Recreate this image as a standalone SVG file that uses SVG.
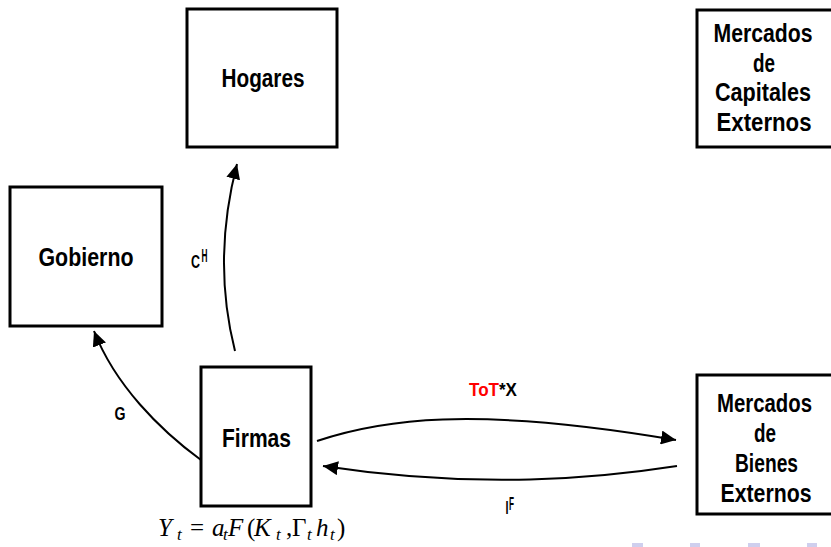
<svg xmlns="http://www.w3.org/2000/svg" width="831" height="547" viewBox="0 0 831 547">
<style>
.box{fill:#fff;stroke:#000;stroke-width:3}
.bt{font-family:"Liberation Sans Narrow","Liberation Sans",Arial,sans-serif;font-weight:bold;font-size:25.5px;fill:#000;text-anchor:middle}
.lb{font-family:"Liberation Sans Narrow","Liberation Sans",Arial,sans-serif;font-weight:bold;font-size:18.5px;fill:#000}
.con{fill:none;stroke:#000;stroke-width:2}
.eq{font-family:"Liberation Serif","Times New Roman",serif;font-size:25px;fill:#000}
.it{font-style:italic}
.sb{font-style:italic;font-size:17px}
.nav{fill:#cfcfee}
</style>
<defs>
<marker id="ah" markerUnits="userSpaceOnUse" markerWidth="15" markerHeight="14" refX="15" refY="7" orient="auto">
<path d="M0,0 L15,7 L0,14 z" fill="#000"/>
</marker>
</defs>
<rect width="831" height="547" fill="#fff"/>
<g id="hogares">
<rect class="box" x="187" y="9" width="150" height="138"/>
<text class="bt" x="263" y="87" textLength="83" lengthAdjust="spacingAndGlyphs">Hogares</text>
</g>
<g id="capitales">
<rect class="box" x="697" y="10" width="136" height="137"/>
<text class="bt" x="763" y="42" textLength="99" lengthAdjust="spacingAndGlyphs">Mercados</text>
<text class="bt" x="764" y="72" textLength="22" lengthAdjust="spacingAndGlyphs">de</text>
<text class="bt" x="763" y="101" textLength="96" lengthAdjust="spacingAndGlyphs">Capitales</text>
<text class="bt" x="764" y="131" textLength="95" lengthAdjust="spacingAndGlyphs">Externos</text>
</g>
<g id="gobierno">
<rect class="box" x="10" y="187" width="152" height="139"/>
<text class="bt" x="86" y="266" textLength="95" lengthAdjust="spacingAndGlyphs">Gobierno</text>
</g>
<g id="firmas">
<rect class="box" x="201" y="367" width="110" height="139"/>
<text class="bt" x="256.5" y="447" textLength="69" lengthAdjust="spacingAndGlyphs">Firmas</text>
</g>
<g id="bienes">
<rect class="box" x="697" y="375" width="136" height="139"/>
<text class="bt" x="764.5" y="412" textLength="95" lengthAdjust="spacingAndGlyphs">Mercados</text>
<text class="bt" x="765" y="442" textLength="22" lengthAdjust="spacingAndGlyphs">de</text>
<text class="bt" x="766.5" y="472" textLength="63" lengthAdjust="spacingAndGlyphs">Bienes</text>
<text class="bt" x="766" y="502" textLength="91" lengthAdjust="spacingAndGlyphs">Externos</text>
</g>
<g id="connectors">
<path class="con" d="M235,351 Q212,260 237,164" marker-end="url(#ah)"/>
<path class="con" d="M201,460 C160,430 115,385 94,331" marker-end="url(#ah)"/>
<path class="con" d="M317,441 C380,420 470,405 676,440" marker-end="url(#ah)"/>
<path class="con" d="M677,466 C600,478 480,490 323,466" marker-end="url(#ah)"/>
</g>
<g id="labels">
<text class="lb" x="191" y="267.5" textLength="9" lengthAdjust="spacingAndGlyphs">C</text>
<text class="lb" x="201.5" y="262" font-size="11" textLength="6" lengthAdjust="spacingAndGlyphs">H</text>
<text class="lb" x="114.5" y="419.5" textLength="11" lengthAdjust="spacingAndGlyphs">G</text>
<text class="lb" x="469" y="396" font-size="20" textLength="48" lengthAdjust="spacingAndGlyphs"><tspan fill="#ff0000">ToT</tspan>*X</text>
<text class="lb" x="505.5" y="513.5" textLength="3" lengthAdjust="spacingAndGlyphs">I</text>
<text class="lb" x="509" y="509.5" font-size="11" textLength="5" lengthAdjust="spacingAndGlyphs">F</text>
</g>
<g id="formula" class="eq">
<text class="it" x="158" y="536">Y</text>
<text class="sb" x="177" y="540">t</text>
<text x="190" y="536">=</text>
<text class="it" x="212" y="536">a</text>
<text class="sb" x="223" y="540">t</text>
<text class="it" x="228" y="536">F</text>
<text x="247" y="536">(</text>
<text class="it" x="254" y="536">K</text>
<text class="sb" x="276" y="540">t</text>
<text x="286" y="536">,</text>
<text x="292" y="536">Γ</text>
<text class="sb" x="307" y="540">t</text>
<text class="it" x="316" y="536">h</text>
<text class="sb" x="330" y="540">t</text>
<text x="337" y="536">)</text>
</g>
<g id="nav">
<rect class="nav" x="632" y="543" width="11" height="4"/>
<rect class="nav" x="690" y="543" width="10" height="4"/>
<rect class="nav" x="748" y="543" width="12" height="4"/>
<rect class="nav" x="807" y="543" width="10" height="4"/>
</g>
</svg>
